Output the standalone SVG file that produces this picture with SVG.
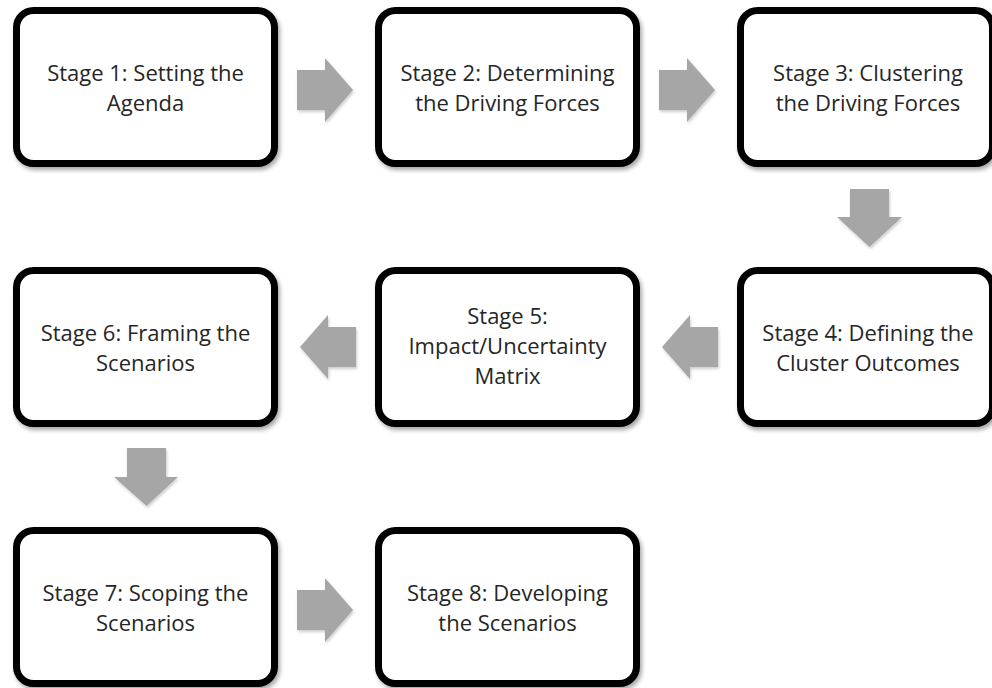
<svg xmlns="http://www.w3.org/2000/svg" width="992" height="688" viewBox="0 0 992 688">
<defs>
<filter id="sh" x="-10%" y="-10%" width="130%" height="130%">
<feDropShadow dx="2" dy="3" stdDeviation="2" flood-color="#000" flood-opacity="0.35"/>
</filter>
<filter id="ash" x="-20%" y="-20%" width="150%" height="150%">
<feDropShadow dx="1" dy="2" stdDeviation="1.5" flood-color="#000" flood-opacity="0.2"/>
</filter>
</defs>
<style>
.box{fill:#fff;stroke:#000;stroke-width:7;filter:url(#sh)}
.t{font-family:"Open Sans","Liberation Sans",sans-serif;font-size:22px;fill:#262626;text-anchor:middle}
.arr{fill:#a6a6a6;filter:url(#ash)}
</style>
<rect width="992" height="688" fill="#fff"/>
<g id="connectors">
<polygon class="arr" points="297,70 325,70 325,58 353,90 325,122 325,110 297,110"/>
<polygon class="arr" points="659,70 687,70 687,58 715,90 687,122 687,110 659,110"/>
<polygon class="arr" points="850,189 889,189 889,217 902,217 869.5,247 837,217 850,217"/>
<polygon class="arr" points="718,327 690,327 690,315 662,347 690,379 690,367 718,367"/>
<polygon class="arr" points="356,327 328,327 328,315 300,347 328,379 328,367 356,367"/>
<polygon class="arr" points="127,448 166,448 166,477 178,477 146.5,506 114,477 127,477"/>
<polygon class="arr" points="297,590 325,590 325,578 353,610 325,642 325,630 297,630"/>
</g>
<g id="stage1">
<rect class="box" x="16.5" y="10.5" width="258" height="153" rx="17"/>
<text class="t" x="145.5" y="81">Stage 1: Setting the</text>
<text class="t" x="145.5" y="111">Agenda</text>
</g>
<g id="stage2">
<rect class="box" x="378.5" y="10.5" width="258" height="153" rx="17"/>
<text class="t" x="507.5" y="81">Stage 2: Determining</text>
<text class="t" x="507.5" y="111">the Driving Forces</text>
</g>
<g id="stage3">
<rect class="box" x="740.5" y="10.5" width="252" height="153" rx="17"/>
<text class="t" x="868" y="81">Stage 3: Clustering</text>
<text class="t" x="868" y="111">the Driving Forces</text>
</g>
<g id="stage4">
<rect class="box" x="740.5" y="270.5" width="252" height="153" rx="17"/>
<text class="t" x="868" y="341">Stage 4: Defining the</text>
<text class="t" x="868" y="371">Cluster Outcomes</text>
</g>
<g id="stage5">
<rect class="box" x="378.5" y="270.5" width="258" height="153" rx="17"/>
<text class="t" x="507.5" y="324">Stage 5:</text>
<text class="t" x="507.5" y="354">Impact/Uncertainty</text>
<text class="t" x="507.5" y="384">Matrix</text>
</g>
<g id="stage6">
<rect class="box" x="16.5" y="270.5" width="258" height="153" rx="17"/>
<text class="t" x="145.5" y="341">Stage 6: Framing the</text>
<text class="t" x="145.5" y="371">Scenarios</text>
</g>
<g id="stage7">
<rect class="box" x="16.5" y="530.5" width="258" height="153" rx="17"/>
<text class="t" x="145.5" y="601">Stage 7: Scoping the</text>
<text class="t" x="145.5" y="631">Scenarios</text>
</g>
<g id="stage8">
<rect class="box" x="378.5" y="530.5" width="258" height="153" rx="17"/>
<text class="t" x="507.5" y="601">Stage 8: Developing</text>
<text class="t" x="507.5" y="631">the Scenarios</text>
</g>
</svg>
